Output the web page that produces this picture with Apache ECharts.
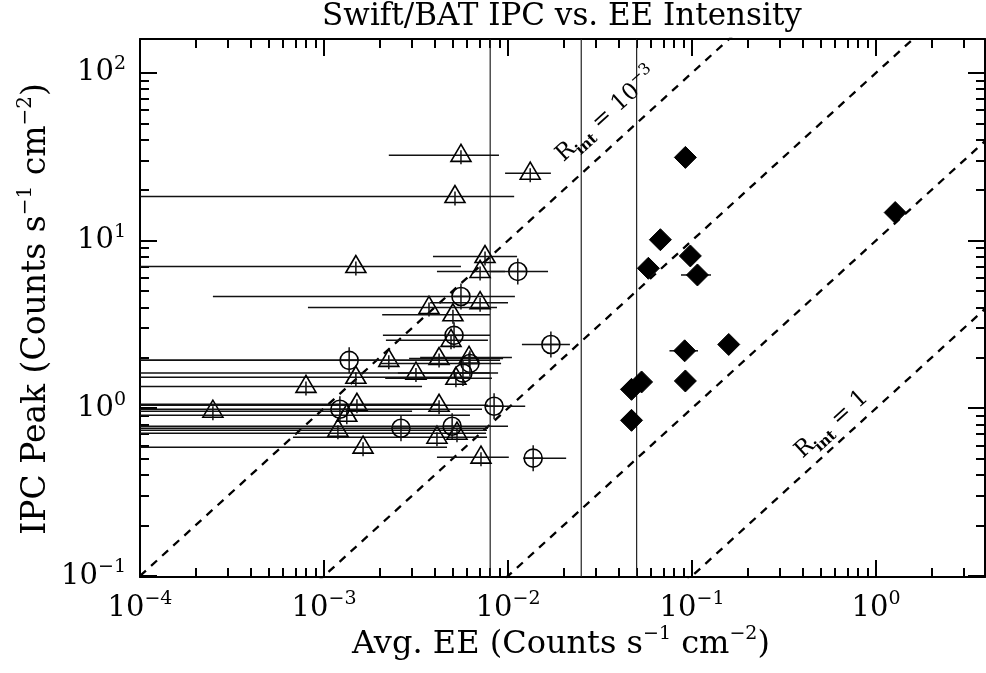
<!DOCTYPE html>
<html><head><meta charset="utf-8">
<script src="https://cdn.jsdelivr.net/npm/echarts@6/dist/echarts.min.js"></script>
<style>html,body{margin:0;padding:0;background:#fff}#c{width:986px;height:673px}</style>
</head><body><div id="c"></div>
<script>
// ---- axis ranges and ticks ----
const X_MIN = 1e-4, X_MAX = 3.91;
const Y_MIN = 0.0986, Y_MAX = 159;
const xMajorTicks = [1e-4, 1e-3, 1e-2, 1e-1, 1];
const xMinorTicks = [2e-4,3e-4,4e-4,5e-4,6e-4,7e-4,8e-4,9e-4,
  2e-3,3e-3,4e-3,5e-3,6e-3,7e-3,8e-3,9e-3,
  2e-2,3e-2,4e-2,5e-2,6e-2,7e-2,8e-2,9e-2,
  0.2,0.3,0.4,0.5,0.6,0.7,0.8,0.9, 2,3];
const yMajorTicks = [0.1, 1, 10, 100];
const yMinorTicks = [0.2,0.3,0.4,0.5,0.6,0.7,0.8,0.9, 2,3,4,5,6,7,8,9, 20,30,40,50,60,70,80,90];

// ---- open triangles: EE, IPC peak, EE low, EE high ----
const triEE   = [5.55e-3,1.32e-2,5.15e-3,7.50e-3,1.49e-3,7.05e-3,7.05e-3,3.72e-3,5.02e-3,4.90e-3,2.25e-3,4.22e-3,6.14e-3,3.16e-3,5.21e-3,1.49e-3,7.98e-4,2.49e-4,1.51e-3,1.33e-3,4.22e-3,1.19e-3,4.11e-3,5.28e-3,1.63e-3,7.13e-3];
const triIPC  = [32.2,25.2,18.3,8.03,7.00,6.54,4.26,3.99,3.61,2.54,1.93,1.98,2.01,1.62,1.51,1.53,1.35,0.960,1.056,0.908,1.042,0.740,0.672,0.710,0.586,0.511];
const triLow  = [2.25e-3,9.64e-3,1e-5,3.91e-3,1e-5,4.11e-3,3.77e-3,8.18e-4,2.07e-3,2.17e-3,1e-5,2.90e-3,3.33e-3,2.52e-3,2.15e-3,1e-5,1e-5,1e-5,1e-5,1e-5,1e-5,1e-5,6.78e-4,1e-5,1e-5,4.11e-3];
const triHigh = [8.93e-3,1.71e-2,1.08e-2,1.12e-2,5.55e-3,9.64e-3,1.0e-2,8.71e-3,7.98e-3,7.78e-3,9.05e-3,9.40e-3,1.05e-2,8.83e-3,8.18e-3,6.21e-3,3.41e-3,3.01e-3,4.26e-3,6.21e-3,7.78e-3,7.69e-3,7.69e-3,7.60e-3,4.66e-3,1.01e-2];

// ---- circles with cross ----
const cirEE   = [1.13e-2,5.55e-3,5.09e-3,1.37e-3,6.21e-3,5.69e-3,1.71e-2,1.22e-3,8.40e-3,2.62e-3,4.97e-3,1.37e-2];
const cirIPC  = [6.54,4.64,2.72,1.93,1.85,1.62,2.40,0.986,1.028,0.760,0.781,0.504];
const cirLow  = [7.98e-3,2.49e-4,2.09e-3,1e-5,2.01e-3,1e-5,1.19e-2,1e-5,7.69e-3,1e-5,1e-5,1.21e-2];
const cirHigh = [1.65e-2,1.09e-2,7.98e-3,4.26e-3,9.17e-3,7.98e-3,2.17e-2,7.22e-3,1.24e-2,7.78e-3,1.0e-2,2.07e-2];

// ---- filled diamonds ----
const diaEE   = [0.0920,1.271,0.0673,0.0979,0.0579,0.107,0.1583,0.0912,0.0532,0.0469,0.0920,0.0469];
const diaIPC  = [31.3,14.68,10.11,8.09,6.83,6.23,2.40,2.20,1.434,1.296,1.454,0.847];
const diaLow  = [0.0920,1.271,0.0673,0.0979,0.0579,0.0871,0.1583,0.0754,0.0532,0.041,0.0920,0.0469];
const diaHigh = [0.0920,1.271,0.0673,0.0979,0.0579,0.1268,0.1583,0.1078,0.0532,0.0535,0.0920,0.0469];

// ---- reference lines ----
const vLines = [0.008, 0.025, 0.05];
const ratioLines = [1e-3, 1e-2, 1e-1, 1];   // R_int = EE / IPC
const ratioLabels = ['10^-3', '1'];
const ratioLabelAnchors = [[0.0345, 56], [0.575, 0.80]];

const FONT = 'DejaVu Serif';
const zip = (a,b,c,d) => a.map((v,i)=>[v,b[i],c[i],d[i]]);

function makeRender(kind) {
  return function (params, api) {
    const x = api.value(0), y = api.value(1), lo = api.value(2), hi = api.value(3);
    const c = api.coord([x, y]);
    const a = api.coord([lo, y]), b = api.coord([hi, y]);
    const cs = params.coordSys;
    const L = Math.max(a[0], cs.x), R = Math.min(b[0], cs.x + cs.width);
    const ln = {stroke: '#111', lineWidth: 1.5};
    const kids = [];
    if (R > L) kids.push({type: 'line', shape: {x1: L, y1: c[1], x2: R, y2: c[1]}, style: ln});
    if (kind === 'tri') {
      kids.push({type: 'polygon', shape: {points: [[c[0], c[1]-11], [c[0]-10, c[1]+6], [c[0]+10, c[1]+6]]},
        style: {fill: 'none', stroke: '#000', lineWidth: 1.6}});
      kids.push({type: 'line', shape: {x1: c[0], y1: c[1]-5, x2: c[0], y2: c[1]+9}, style: ln});
    } else if (kind === 'cir') {
      kids.push({type: 'circle', shape: {cx: c[0], cy: c[1], r: 9}, style: {fill: 'none', stroke: '#000', lineWidth: 1.6}});
      kids.push({type: 'line', shape: {x1: c[0], y1: c[1]-13, x2: c[0], y2: c[1]+13}, style: ln});
      kids.push({type: 'line', shape: {x1: c[0]-9, y1: c[1], x2: c[0]+9, y2: c[1]}, style: ln});
    } else {
      kids.push({type: 'polygon', shape: {points: [[c[0], c[1]-11], [c[0]+11, c[1]], [c[0], c[1]+11], [c[0]-11, c[1]]]},
        style: {fill: '#000', stroke: '#000', lineWidth: 1}});
    }
    return {type: 'group', children: kids};
  };
}

function expLabel(v) {
  const e = Math.round(Math.log10(v));
  return '{b|10}{s|' + (e < 0 ? '\u2212' + (-e) : e) + '}';
}
const tickRich = {
  b: {fontFamily: FONT, fontSize: 29, color: '#000', lineHeight: 36, verticalAlign: 'middle'},
  s: {fontFamily: FONT, fontSize: 19, color: '#000', lineHeight: 19, verticalAlign: 'top'}
};

function xAx(pos, major, gridIndex) {
  return {
    type: 'log', logBase: 10, min: X_MIN, max: X_MAX, position: pos, gridIndex: gridIndex,
    axisLine: {show: major, onZero: false, lineStyle: {color: '#000', width: 2}},
    axisTick: {show: true, inside: true, length: major ? 17 : 9, customValues: major ? xMajorTicks : xMinorTicks,
      lineStyle: {color: '#000', width: 2}},
    axisLabel: {show: major && pos === 'bottom', customValues: xMajorTicks, margin: 13, formatter: expLabel, rich: tickRich},
    splitLine: {show: false}, minorTick: {show: false}, minorSplitLine: {show: false}
  };
}
function yAx(pos, major, gridIndex) {
  return {
    type: 'log', logBase: 10, min: Y_MIN, max: Y_MAX, position: pos, gridIndex: gridIndex,
    axisLine: {show: major, onZero: false, lineStyle: {color: '#000', width: 2}},
    axisTick: {show: true, inside: true, length: major ? 17 : 9, customValues: major ? yMajorTicks : yMinorTicks,
      lineStyle: {color: '#000', width: 2}},
    axisLabel: {show: major && pos === 'left', customValues: yMajorTicks, margin: 14, formatter: expLabel, rich: tickRich},
    splitLine: {show: false}, minorTick: {show: false}, minorSplitLine: {show: false}
  };
}

const gridRect = {left: 140, right: 1, top: 39, bottom: 96, containLabel: false, outerBoundsMode: 'none'};

const series = [];
vLines.forEach(v => {
  series.push({
    type: 'line', xAxisIndex: 0, yAxisIndex: 0, symbol: 'none', silent: true, clip: true,
    data: [[v, Y_MIN], [v, Y_MAX]],
    lineStyle: {color: '#222', width: 1.2, type: 'solid'}, z: 2
  });
});
ratioLines.forEach(r => {
  series.push({
    type: 'line', xAxisIndex: 0, yAxisIndex: 0, symbol: 'none', silent: true, clip: true,
    data: [[X_MIN, X_MIN / r], [X_MAX, X_MAX / r]],
    lineStyle: {color: '#000', width: 2.3, type: [8, 7]}, z: 2
  });
});
series.push({type: 'custom', xAxisIndex: 0, yAxisIndex: 0, clip: true, renderItem: makeRender('tri'),
  encode: {x: 0, y: 1}, data: zip(triEE, triIPC, triLow, triHigh), z: 5});
series.push({type: 'custom', xAxisIndex: 0, yAxisIndex: 0, clip: true, renderItem: makeRender('cir'),
  encode: {x: 0, y: 1}, data: zip(cirEE, cirIPC, cirLow, cirHigh), z: 5});
series.push({type: 'custom', xAxisIndex: 0, yAxisIndex: 0, clip: true, renderItem: makeRender('dia'),
  encode: {x: 0, y: 1}, data: zip(diaEE, diaIPC, diaLow, diaHigh), z: 6});
series.push({
  type: 'scatter', xAxisIndex: 0, yAxisIndex: 0, symbolSize: 0, silent: true, z: 7,
  itemStyle: {color: '#000', opacity: 1},
  data: ratioLabelAnchors.map((p, i) => ({value: p, name: ratioLabels[i]})),
  label: {
    show: true, position: 'inside', rotate: 42, color: '#000', textBorderWidth: 0, textBorderColor: 'transparent',
    formatter: p => {
      const t = p.name.split('^');
      return '{r|R}{sub|int}{r| = ' + t[0] + '}' + (t[1] ? '{sup|' + t[1].replace('-', '\u2212') + '}' : '');
    },
    rich: {
      r: {fontFamily: FONT, fontSize: 23, color: '#000', textBorderWidth: 0, lineHeight: 32, verticalAlign: 'middle'},
      sub: {fontFamily: FONT, fontSize: 15, fontWeight: 'bold', color: '#000', textBorderWidth: 0, lineHeight: 15, verticalAlign: 'bottom'},
      sup: {fontFamily: FONT, fontSize: 16, color: '#000', textBorderWidth: 0, lineHeight: 16, verticalAlign: 'top'}
    }
  }
});

const titleRich = {
  t: {fontFamily: FONT, fontSize: 32, color: '#000', lineHeight: 40, verticalAlign: 'middle'},
  s: {fontFamily: FONT, fontSize: 19, color: '#000', lineHeight: 19, verticalAlign: 'top'}
};
const yTitleRich = {
  t: {fontFamily: FONT, fontSize: 33, color: '#000', lineHeight: 40, verticalAlign: 'middle'},
  s: {fontFamily: FONT, fontSize: 20, color: '#000', lineHeight: 20, verticalAlign: 'top'}
};

const option = {
  animation: false,
  backgroundColor: '#fff',
  grid: [Object.assign({}, gridRect), Object.assign({}, gridRect)],
  xAxis: [xAx('bottom', true, 0), xAx('top', true, 0), xAx('bottom', false, 1), xAx('top', false, 1)],
  yAxis: [yAx('left', true, 0), yAx('right', true, 0), yAx('left', false, 1), yAx('right', false, 1)],
  series: series,
  graphic: [
    {type: 'text', x: 562, y: 17, style: {text: 'Swift/BAT IPC vs. EE Intensity', fontFamily: FONT, fontSize: 31,
      fill: '#000', textAlign: 'center', textVerticalAlign: 'middle'}},
    {type: 'text', x: 561, y: 645, style: {text: '{t|Avg. EE (Counts s}{s|\u22121}{t| cm}{s|\u22122}{t|)}',
      rich: titleRich, textAlign: 'center', textVerticalAlign: 'middle'}},
    {type: 'text', x: 36, y: 309, rotation: Math.PI / 2, style: {text: '{t|IPC Peak (Counts s}{s|\u22121}{t| cm}{s|\u22122}{t|)}',
      rich: yTitleRich, textAlign: 'center', textVerticalAlign: 'middle'}}
  ]
};

const chart = echarts.init(document.getElementById('c'), null, {renderer: 'canvas'});
chart.setOption(option);
</script>
</body></html>
